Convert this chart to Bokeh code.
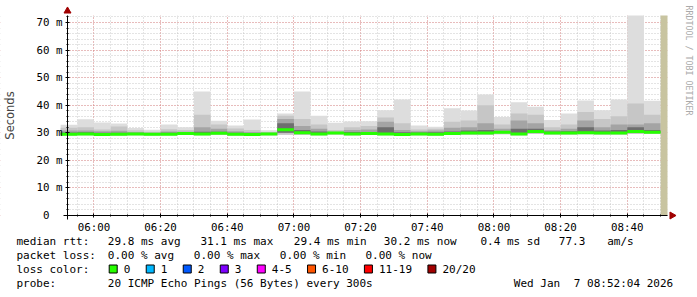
import math
from datetime import datetime, timedelta
from bokeh.plotting import figure
from bokeh.models import (Range1d, FixedTicker, DatetimeTickFormatter, Label, BoxAnnotation)
from bokeh.embed import file_html
from bokeh.resources import INLINE

# ---------------- data ----------------
interval_start = datetime(2026, 1, 7, 5, 50)
step_minutes = 5
view_start = datetime(2026, 1, 7, 5, 52, 4)
view_end = datetime(2026, 1, 7, 8, 52, 4)
unknown_start = datetime(2026, 1, 7, 8, 50)

rtt_max = [32.9, 34.9, 33.7, 33.4, 31.7, 31.1, 33.0, 32.0, 45.0, 34.4, 32.6, 34.8, 30.9, 37.0,
           45.0, 36.2, 33.6, 34.1, 34.2, 38.2, 42.1, 32.6, 32.2, 38.9, 38.1, 43.9, 35.7, 41.1,
           39.4, 34.6, 37.0, 41.7, 38.2, 42.1, 72.54, 41.6]
rtt_p19 = [31.8, 32.0, 31.2, 32.3, 30.9, 30.4, 31.3, 31.0, 36.5, 33.0, 31.6, 31.0, 30.3, 36.2,
           35.0, 33.0, 31.0, 32.0, 32.5, 35.5, 33.5, 31.2, 31.5, 34.0, 34.5, 40.0, 33.0, 37.0,
           36.5, 32.0, 33.0, 37.5, 35.0, 36.0, 40.6, 36.5]
rtt_p17 = [30.8, 30.8, 30.6, 30.7, 30.3, 30.0, 30.5, 30.4, 32.0, 31.5, 30.6, 30.3, 30.0, 35.0,
           32.5, 31.5, 30.4, 31.0, 31.2, 34.0, 31.0, 30.6, 30.8, 31.8, 32.0, 33.5, 31.5, 34.5,
           33.5, 31.0, 31.5, 34.5, 32.0, 33.0, 33.0, 33.5]
rtt_p14 = [30.1, 30.2, 30.0, 30.0, 29.9, 29.8, 30.0, 30.0, 30.4, 30.4, 30.0, 29.8, 29.8, 33.5,
           31.0, 30.5, 30.1, 30.3, 30.3, 32.0, 30.2, 30.1, 30.2, 30.5, 30.8, 31.0, 30.6, 31.5,
           31.5, 30.5, 30.6, 32.0, 30.8, 31.0, 32.0, 31.0]
rtt_median = [29.5, 29.6, 29.4, 29.5, 29.6, 29.5, 29.5, 29.7, 29.6, 29.8, 29.5, 29.4, 29.6, 31.1,
              30.0, 29.6, 29.9, 29.6, 29.7, 29.6, 29.4, 29.6, 29.5, 29.7, 29.9, 29.9, 30.2, 29.6,
              30.5, 29.9, 29.9, 30.0, 29.9, 29.9, 30.5, 30.2]
rtt_low = [29.3, 29.4, 29.2, 29.3, 29.4, 29.3, 29.3, 29.5, 29.4, 29.6, 29.3, 29.2, 29.4, 30.0,
           29.7, 29.4, 29.7, 29.4, 29.5, 29.4, 29.2, 29.4, 29.3, 29.5, 29.6, 29.6, 29.9, 29.4,
           30.0, 29.7, 29.7, 29.8, 29.7, 29.7, 30.0, 29.9]
rtt_min = [29.0, 29.1, 28.9, 29.0, 29.1, 29.0, 29.1, 29.2, 29.1, 29.3, 29.0, 28.9, 29.1, 29.3,
           29.2, 29.1, 29.4, 29.1, 29.2, 29.1, 28.9, 29.1, 29.0, 29.2, 29.3, 29.3, 29.5, 29.1,
           29.6, 29.4, 29.4, 29.5, 29.4, 29.4, 29.6, 29.6]

y_ticks = [0, 10, 20, 30, 40, 50, 60, 70]
y_tick_labels = ["0\u00a0\u00a0", "10 m", "20 m", "30 m", "40 m", "50 m", "60 m", "70 m"]
x_tick_times = [datetime(2026, 1, 7, 6, 0) + timedelta(minutes=20 * i) for i in range(9)]

median_stats = {"avg": 29.8, "max": 31.1, "min": 29.4, "now": 30.2, "sd": 0.4, "am_s": 77.3}
loss_stats = {"avg": 0.00, "max": 0.00, "min": 0.00, "now": 0.00}
loss_labels = ["0", "1", "2", "3", "4-5", "6-10", "11-19", "20/20"]
loss_colors = ["#26ff00", "#00b8ff", "#0059ff", "#7e00ff", "#ff00ff", "#ff5500", "#ff0000", "#a10000"]
probe_text = "20 ICMP Echo Pings (56 Bytes) every 300s"
stamp_date = "Wed Jan"
stamp_time = "7 08:52:04 2026"

# ---------------- geometry (canvas px) ----------------
W, H = 697, 297
PLOT_L, PLOT_R, PLOT_T, PLOT_B = 67, 667, 15, 215
EPOCH = datetime(1970, 1, 1)
def ms(dt):
    return (dt - EPOCH).total_seconds() * 1000.0

y_top = max(rtt_max)
span_min = (view_end - view_start).total_seconds() / 60.0
px_per_min = (PLOT_R - PLOT_L) / span_min
px_per_unit = (PLOT_B - PLOT_T) / y_top
x_lo = view_start - timedelta(minutes=PLOT_L / px_per_min)
x_hi = view_start + timedelta(minutes=(W - PLOT_L) / px_per_min)
y_lo = -(H - PLOT_B) / px_per_unit
y_hi = PLOT_B / px_per_unit

starts = [interval_start + timedelta(minutes=step_minutes * i) for i in range(len(rtt_max))]
ends = [s + timedelta(minutes=step_minutes) for s in starts]

p = figure(width=W, height=H, min_border=0, min_border_left=0, min_border_right=0,
           min_border_top=0, min_border_bottom=0,
           x_axis_type="datetime", output_backend="svg", toolbar_location=None,
           x_range=Range1d(x_lo, x_hi), y_range=Range1d(y_lo, y_hi))
p.background_fill_color = "white"
p.border_fill_color = "white"
p.outline_line_color = None

# white masks so that the grid only shows inside the plotting area
mask = dict(fill_color="white", line_color=None)
p.quad(left=[x_lo], right=[view_start], bottom=[y_lo], top=[y_hi], **mask)
p.quad(left=[view_end], right=[x_hi], bottom=[y_lo], top=[y_hi], **mask)
p.quad(left=[view_start], right=[view_end], bottom=[y_lo], top=[0], **mask)
p.quad(left=[view_start], right=[view_end], bottom=[y_top], top=[y_hi], **mask)

# smoke bands (outer to inner)
bands = [(rtt_min, rtt_max, "#dddddd"), (rtt_min, rtt_p19, "#c6c6c6"),
         (rtt_low, rtt_p17, "#a4a4a4"), (rtt_low, rtt_p14, "#6e6e6e")]
for lo, hi, col in bands:
    p.quad(left=starts, right=ends, bottom=lo, top=hi, fill_color=col, line_color=None)

# unknown / current interval
p.quad(left=[unknown_start], right=[view_end], bottom=[0], top=[y_top],
       fill_color="#c8c4a0", line_color=None)

# median line coloured by loss (0 loss)
p.segment(x0=starts, x1=ends, y0=rtt_median, y1=rtt_median,
          line_color=loss_colors[0], line_width=3)

# ---------------- axes & grid ----------------
p.xaxis.fixed_location = 0
p.yaxis.fixed_location = ms(view_start)
p.xaxis.bounds = (ms(view_start), ms(view_end))
p.yaxis.bounds = (0, y_top)
p.xaxis.ticker = FixedTicker(ticks=[ms(t) for t in x_tick_times],
                             minor_ticks=[ms(starts[1]) + 300000 * i for i in range(36)])
fmt = "%H:%M"
p.xaxis.formatter = DatetimeTickFormatter(microseconds=fmt, milliseconds=fmt, seconds=fmt, minsec=fmt,
                                          minutes=fmt, hourmin=fmt, hours=fmt, days=fmt, months=fmt, years=fmt)
p.yaxis.ticker = FixedTicker(ticks=y_ticks, minor_ticks=list(range(0, 73, 2)))
p.yaxis.major_label_overrides = dict(zip(y_ticks, y_tick_labels))

for ax in (p.xaxis[0], p.yaxis[0]):
    ax.axis_line_color = "black"
    ax.major_tick_line_color = "black"
    ax.minor_tick_line_color = "black"
    ax.major_tick_in = 2
    ax.major_tick_out = 2
    ax.minor_tick_in = 1
    ax.minor_tick_out = 1
    ax.major_label_text_font = "DejaVu Sans Mono"
    ax.major_label_text_font_size = "10.8px"
    ax.major_label_text_color = "#000000"
    ax.major_label_standoff = 3

p.yaxis.axis_label = "Seconds"
p.yaxis.axis_label_text_font = "DejaVu Sans"
p.yaxis.axis_label_text_font_style = "normal"
p.yaxis.axis_label_text_font_size = "11.5px"
p.yaxis.axis_label_standoff = 16

for g in (p.xgrid[0], p.ygrid[0]):
    g.grid_line_color = "#ff0000"
    g.grid_line_alpha = 0.35
    g.grid_line_dash = "1 2"
    g.minor_grid_line_color = "#c0c0c0"
    g.minor_grid_line_alpha = 0.85
    g.minor_grid_line_dash = "1 2"

# short axis-line stubs past the origin, as rrdtool draws them
stub_x = timedelta(minutes=4 / px_per_min)
stub_y = 4 / px_per_unit
p.segment(x0=[view_start - stub_x, view_start], y0=[0, -stub_y],
          x1=[view_start, view_start], y1=[0, 0], line_color="black", line_width=1)

# axis arrow heads
arrow_color = "#a00000"
p.scatter(x=[view_start], y=[y_top + 4.5 / px_per_unit], marker="triangle", size=7,
          fill_color=arrow_color, line_color=arrow_color)
p.scatter(x=[view_end + timedelta(minutes=4.5 / px_per_min)], y=[0], marker="triangle", size=7,
          angle=-math.pi / 2, fill_color=arrow_color, line_color=arrow_color)

# watermark
p.add_layout(Label(x=688, y=H - 5, x_units="screen", y_units="screen", text="RRDTOOL / TOBI OETIKER",
                   angle=-math.pi / 2, text_font="DejaVu Sans Mono", text_font_size="8.3px",
                   text_color="#aaaaaa", text_align="left", text_baseline="middle"))

# ---------------- legend text ----------------
def put(text, cx, cy, color="black"):
    p.add_layout(Label(x=cx, y=H - cy, x_units="screen", y_units="screen", text=text,
                       text_font="DejaVu Sans Mono", text_font_size="11px", text_color=color,
                       text_align="left", text_baseline="middle"))

row1 = 240.5
put("median rtt:", 16, row1)
put(f"{median_stats['avg']:.1f} ms avg", 107.3, row1)
put(f"{median_stats['max']:.1f} ms max", 200, row1)
put(f"{median_stats['min']:.1f} ms min", 293.3, row1)
put(f"{median_stats['now']:.1f} ms now", 383.3, row1)
put(f"{median_stats['sd']:.1f} ms sd", 480, row1)
put(f"{median_stats['am_s']:.1f}", 558.3, row1)
put("am/s", 606.7, row1)

row2 = 254.5
put("packet loss:", 16, row2)
put(f"{loss_stats['avg']:.2f} % avg", 107.3, row2)
put(f"{loss_stats['max']:.2f} % max", 193.3, row2)
put(f"{loss_stats['min']:.2f} % min", 279.3, row2)
put(f"{loss_stats['now']:.2f} % now", 365, row2)

row3 = 268.5
put("loss color:", 16, row3)
pos = 108.7
for lab, col in zip(loss_labels, loss_colors):
    p.add_layout(BoxAnnotation(left=pos, right=pos + 8, bottom=H - row3 - 4, top=H - row3 + 4,
                               left_units="screen", right_units="screen", top_units="screen",
                               bottom_units="screen", fill_color=col, fill_alpha=1.0,
                               line_color="black", line_width=1, line_alpha=1.0))
    put(lab, pos + 14.5, row3)
    pos += 14.5 + 6.62 * len(lab) + 15.9

row4 = 282.5
put("probe:", 16, row4)
put(probe_text, 107.3, row4)
put(stamp_date, 513.3, row4)
put(stamp_time, 573.3, row4)

open("out.html", "w").write(file_html(p, INLINE))
